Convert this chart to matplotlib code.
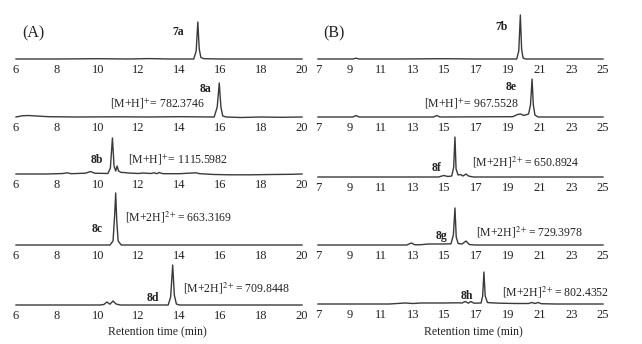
import matplotlib
matplotlib.use("Agg")
import matplotlib.pyplot as plt

plt.rcParams['font.family'] = ['Liberation Serif', 'DejaVu Serif']
plt.rcParams['mathtext.fontset'] = 'stix'

# ---------------- data (retention time in min, relative intensity) ----------------
# Panel A
t_7a = [6, 8, 10, 11.5, 12.5, 13.5, 14.7, 14.82, 14.9, 14.97, 15.05, 15.2, 16, 18, 20]
i_7a = [0, 0, 0.3, 0, 0.4, 0, 0, 8, 37, 10, 1.5, 0.3, 0, 0, 0]

t_8a = [6, 6.3, 6.6, 7.0, 7.6, 9, 11, 12.5, 14, 15.7, 15.85, 15.95, 16.03, 16.12, 16.3, 17, 18, 19, 20]
i_8a = [0, 1.2, 1.5, 1.0, 0.3, 0, 0.2, 0, 0.3, 0, 10, 34, 10, 1, 0, -0.5, 0, -0.3, 0]

t_8b = [6, 7.5, 8.3, 8.5, 8.7, 9.4, 9.65, 9.85, 10.5, 10.62, 10.72, 10.8, 10.88, 10.95, 11.02,
        11.15, 11.3, 11.5, 12.0, 12.2, 12.6, 12.75, 12.9, 13.0, 13.2, 14, 14.8, 15, 15.7, 16.5,
        17.5, 18.5, 19.5, 20]
i_8b = [0, 0, 0.5, 1.2, 0.3, 0.8, 2.5, 0.8, 0.5, 6, 36, 8, 3, 8, 3,
        1.5, 1.5, 1, 0.5, 1, 0.5, 1.2, 0.3, 1.5, 0.3, 0.3, 1.2, 0.3, -0.5, -0.8,
        -0.8, -0.5, -0.3, 0]

t_8c = [6, 10.6, 10.75, 10.83, 10.88, 10.93, 11.0, 11.15, 20]
i_8c = [0, 0, 4, 30, 52, 25, 4, 0, 0]

t_8d = [6, 10.1, 10.3, 10.45, 10.6, 10.75, 10.9, 11.1, 13.45, 13.57, 13.67, 13.75, 13.85, 14.0, 20]
i_8d = [0, 0, 0.5, 3, 0.8, 4, 1, 0, 0, 8, 40, 10, 1, 0, 0]

# Panel B
t_7b = [7, 9.2, 9.4, 9.6, 12, 15, 17, 19.55, 19.68, 19.78, 19.86, 19.95, 20.1, 22, 25]
i_7b = [0, 0, 0.8, 0, 0, 0.3, 0, 0, 8, 44, 10, 1, 0, 0, 0]

t_8e = [7, 9.2, 9.4, 9.6, 14.3, 14.5, 14.7, 19.3, 19.6, 19.8, 20.0, 20.3, 20.42, 20.52, 20.6,
        20.7, 20.9, 22, 25]
i_8e = [0, 0, 1.5, 0, 0, 1.5, 0, 0.3, 2.5, 3, 1.5, 3, 12, 38, 12,
        2, 0, 0, 0]

t_8f = [7, 12, 14.6, 14.95, 15.2, 15.45, 15.57, 15.65, 15.72, 15.85, 16.0, 16.15, 16.35, 16.5,
        16.8, 18, 25]
i_8f = [0, 0, 0, 1.5, 0.5, 1, 10, 40, 8, 2, 2.5, 1, 3, 1,
        0, 0, 0]

t_8g = [7, 12.6, 12.9, 13.1, 13.4, 14.0, 15.0, 15.4, 15.55, 15.65, 15.73, 15.85, 16.1, 16.35,
        16.55, 16.9, 18, 21, 25]
i_8g = [0, 0, 2, 0.3, 0.2, 1, 1, 1.2, 10, 37, 8, 1.5, 1, 4,
        0.5, 0, 0, 0, 0]

t_8h = [7, 11.5, 12.5, 13.0, 13.5, 14.3, 15.0, 15.8, 16.1, 16.3, 16.5, 16.65, 16.85, 17.3, 17.4,
        17.48, 17.56, 17.7, 17.9, 18.5, 19.5, 20.3, 20.5, 20.7, 20.9, 21.1, 22, 25]
i_8h = [0, 0, 1, 0.5, 1, 1, 1, 1.2, 1, 2.5, 0.8, 2.5, 0.8, 1, 8,
        32, 8, 1.5, 1.2, 0.8, 0.5, 0.5, 1.5, 0.5, 1.5, 0.3, 0, 0]

ticks_A = [6, 8, 10, 12, 14, 16, 18, 20]
ticks_B = [7, 9, 11, 13, 15, 17, 19, 21, 23, 25]

compounds_A = ['7a', '8a', '8b', '8c', '8d']
compounds_B = ['7b', '8e', '8f', '8g', '8h']
mass_A = [None, r'[M+H]$^{+}$= 782.3746', r'[M+H]$^{+}$= 1115.5982',
          r'[M+2H]$^{2+}$= 663.3169', r'[M+2H]$^{2+}$= 709.8448']
mass_B = [None, r'[M+H]$^{+}$= 967.5528', r'[M+2H]$^{2+}$= 650.8924',
          r'[M+2H]$^{2+}$= 729.3978', r'[M+2H]$^{2+}$= 802.4352']

traces_A = [(t_7a, i_7a), (t_8a, i_8a), (t_8b, i_8b), (t_8c, i_8c), (t_8d, i_8d)]
traces_B = [(t_7b, i_7b), (t_8e, i_8e), (t_8f, i_8f), (t_8g, i_8g), (t_8h, i_8h)]

# ---------------- layout ----------------
W, H = 642, 344
fig = plt.figure(figsize=(W / 100, H / 100), dpi=100)
fig.patch.set_facecolor('white')

base_A = [59, 117, 174, 245, 305]
base_B = [59, 117, 177, 245, 304]
AX_H = 58  # px
LINE_C = '#3a3a3a'


def make_axes(left_px, right_px, base_px, xlim, ticks, t, i):
    bottom_px = base_px + 2
    ax = fig.add_axes([left_px / W, 1 - bottom_px / H, (right_px - left_px) / W, AX_H / H])
    ax.patch.set_visible(False)
    ax.plot(t, i, color=LINE_C, lw=1.0, clip_on=False, solid_joinstyle='round')
    ax.set_xlim(*xlim)
    ax.set_ylim(-2, AX_H - 2)
    for s in ax.spines.values():
        s.set_visible(False)
    ax.set_yticks([])
    ax.set_xticks(ticks)
    ax.set_xticklabels([str(v) for v in ticks])
    ax.tick_params(axis='x', length=0, pad=2.5, labelsize=9, labelcolor='#222222')
    return ax


for k in range(5):
    make_axes(16, 302, base_A[k], (6, 20), ticks_A, *traces_A[k])
    make_axes(318, 603, base_B[k], (7, 25), ticks_B, *traces_B[k])


def ftext(x, y, s, **kw):
    fig.text(x / W, 1 - y / H, s, **kw)


TXT = '#222222'
ftext(22, 33, '(A)', fontsize=11.5, va='center', ha='left', color=TXT)
ftext(323, 33, '(B)', fontsize=11.5, va='center', ha='left', color=TXT)

# compound labels (bold)
lab_A_pos = [(178, 32), (205, 89), (97, 160), (97, 229), (153, 298)]
lab_B_pos = [(502, 27), (511, 87), (437, 168), (441, 236), (467, 296)]
for name, (x, y) in zip(compounds_A, lab_A_pos):
    ftext(x, y, name, fontsize=8.5, fontweight='bold', ha='center', va='center', color=TXT)
for name, (x, y) in zip(compounds_B, lab_B_pos):
    ftext(x, y, name, fontsize=8.5, fontweight='bold', ha='center', va='center', color=TXT)

# mass labels
mass_A_pos = [None, (110, 104), (128, 160), (125, 217), (183, 288)]
mass_B_pos = [None, (424, 104), (472, 162), (476, 232), (502, 292)]
for s, p in zip(mass_A, mass_A_pos):
    if s:
        ftext(p[0], p[1], s, fontsize=8.5, ha='left', va='center', color=TXT)
for s, p in zip(mass_B, mass_B_pos):
    if s:
        ftext(p[0], p[1], s, fontsize=8.5, ha='left', va='center', color=TXT)

ftext(157, 332, 'Retention time (min)', fontsize=8.5, ha='center', va='center', color=TXT)
ftext(473, 332, 'Retention time (min)', fontsize=8.5, ha='center', va='center', color=TXT)

fig.savefig('out.png', dpi=100, facecolor='white')
